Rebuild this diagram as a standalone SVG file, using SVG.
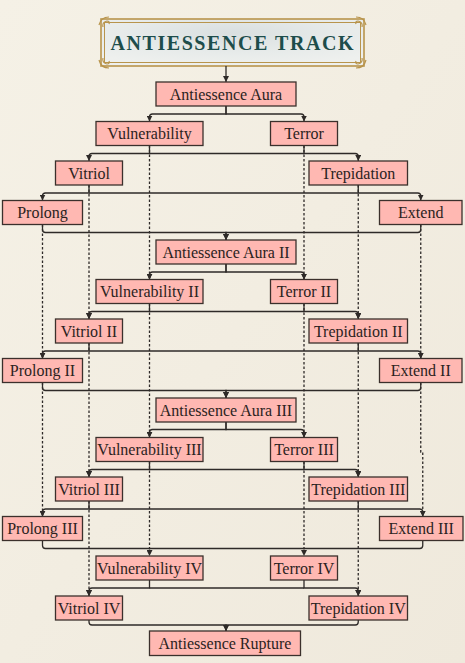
<svg xmlns="http://www.w3.org/2000/svg" width="465" height="663" viewBox="0 0 465 663">
<defs>
  <linearGradient id="bg" x1="0" y1="0" x2="1" y2="1">
    <stop offset="0" stop-color="#f5f1e6"/>
    <stop offset="1" stop-color="#efe9dc"/>
  </linearGradient>
  <radialGradient id="cloud" cx="0.5" cy="0.3" r="0.7">
    <stop offset="0" stop-color="#d9dfe0"/>
    <stop offset="0.6" stop-color="#e7ebea"/>
    <stop offset="1" stop-color="#eef0ee"/>
  </radialGradient>
  <marker id="arr" viewBox="0 0 6 6" refX="6" refY="3" markerWidth="6" markerHeight="6" markerUnits="userSpaceOnUse" orient="auto">
    <path d="M0,0 L6,3 L0,6 z" fill="#2e2a28"/>
  </marker>
  <style>
    .box{fill:#ffb8b2;stroke:#3b302c;stroke-width:1.3}
    .lbl{font-family:"Liberation Serif","Times New Roman",serif;font-size:16px;fill:#2b2321;text-anchor:middle}
    .e{fill:none;stroke:#2e2a28;stroke-width:1.3}
    .d{fill:none;stroke:#2e2a28;stroke-width:1.3;stroke-dasharray:2.5 2}
    .gold{fill:none;stroke:#b8944c}
  </style>
</defs>
<rect x="0" y="0" width="465" height="663" fill="url(#bg)"/>

<g id="title">
  <rect x="101" y="19" width="263" height="47" fill="url(#cloud)"/>
  <rect x="101" y="19" width="263" height="47" class="gold" stroke-width="1.6"/>
  <rect x="104.5" y="22.5" width="256" height="40" class="gold" stroke-width="1"/>
  <path class="gold" stroke-width="1.2" d="M99,25 q2,-8 10,-8 M103,27 q-1,-5 4,-6 q3,0 2,3 M99,60 q2,8 10,8 M103,58 q-1,5 4,6 q3,0 2,-3 M366,25 q-2,-8 -10,-8 M362,27 q1,-5 -4,-6 q-3,0 -2,3 M366,60 q-2,8 -10,8 M362,58 q1,5 -4,6 q-3,0 -2,-3"/>
  <text x="110.5" y="50" textLength="243" lengthAdjust="spacing" font-family="'Liberation Serif',serif" font-weight="bold" font-size="20" fill="#1d4d4b">ANTIESSENCE TRACK</text>
</g>

<g id="connectors">
  <path class="e" d="M226,66 V82" marker-end="url(#arr)"/>

  <path class="e" d="M226,106 V114 H152.5 Q149.5,114 149.5,117 V121.5" marker-end="url(#arr)"/>
  <path class="e" d="M226,106 V114 H301 Q304,114 304,117 V121.5" marker-end="url(#arr)"/>
  <path class="e" d="M149.5,145.5 V153.5 H92 Q89,153.5 89,156.5 V161" marker-end="url(#arr)"/>
  <path class="e" d="M304,145.5 V153.5 H355.25 Q358.25,153.5 358.25,156.5 V161" marker-end="url(#arr)"/>
  <path class="e" d="M149.5,153.5 H304"/>
  <path class="e" d="M89,185 V193 H45.5 Q42.5,193 42.5,196 V200.5" marker-end="url(#arr)"/>
  <path class="e" d="M358.25,185 V193 H417.75 Q420.75,193 420.75,196 V200.5" marker-end="url(#arr)"/>
  <path class="e" d="M89,193 H358.25"/>
  <path class="e" d="M42.5,224.5 V229.5 Q42.5,232.5 45.5,232.5 H226 V240" marker-end="url(#arr)"/>
  <path class="e" d="M420.75,224.5 V229.5 Q420.75,232.5 417.75,232.5 H226 V240" marker-end="url(#arr)"/>

  <path class="e" d="M226,264 V272 H152.5 Q149.5,272 149.5,275 V279.5" marker-end="url(#arr)"/>
  <path class="e" d="M226,264 V272 H301 Q304,272 304,275 V279.5" marker-end="url(#arr)"/>
  <path class="e" d="M149.5,303.5 V311.5 H92 Q89,311.5 89,314.5 V319" marker-end="url(#arr)"/>
  <path class="e" d="M304,303.5 V311.5 H355.25 Q358.25,311.5 358.25,314.5 V319" marker-end="url(#arr)"/>
  <path class="e" d="M149.5,311.5 H304"/>
  <path class="e" d="M89,343 V351 H45.5 Q42.5,351 42.5,354 V358.5" marker-end="url(#arr)"/>
  <path class="e" d="M358.25,343 V351 H417.75 Q420.75,351 420.75,354 V358.5" marker-end="url(#arr)"/>
  <path class="e" d="M89,351 H358.25"/>
  <path class="e" d="M42.5,382.5 V387.5 Q42.5,390.5 45.5,390.5 H226 V398" marker-end="url(#arr)"/>
  <path class="e" d="M420.75,382.5 V387.5 Q420.75,390.5 417.75,390.5 H226 V398" marker-end="url(#arr)"/>

  <path class="e" d="M226,422 V429.5 H152.5 Q149.5,429.5 149.5,432.5 V437.5" marker-end="url(#arr)"/>
  <path class="e" d="M226,422 V429.5 H301 Q304,429.5 304,432.5 V437.5" marker-end="url(#arr)"/>
  <path class="e" d="M149.5,461.5 V469.5 H92 Q89,469.5 89,472.5 V477" marker-end="url(#arr)"/>
  <path class="e" d="M304,461.5 V469.5 H355.25 Q358.25,469.5 358.25,472.5 V477" marker-end="url(#arr)"/>
  <path class="e" d="M149.5,469.5 H304"/>
  <path class="e" d="M89,501 V509 H45.5 Q42.5,509 42.5,512 V516.5" marker-end="url(#arr)"/>
  <path class="e" d="M358.25,501 V509 H419.75 Q422.75,509 422.75,512 V516.5" marker-end="url(#arr)"/>
  <path class="e" d="M89,509 H358.25"/>
  <path class="e" d="M42.5,540.5 V545.5 Q42.5,548.5 45.5,548.5 H419.75 Q422.75,548.5 422.75,545.5 V540.5"/>

  <path class="e" d="M149.5,580 V588 H92 Q89,588 89,591 V596" marker-end="url(#arr)"/>
  <path class="e" d="M304,580 V588 H355.25 Q358.25,588 358.25,591 V596" marker-end="url(#arr)"/>
  <path class="e" d="M149.5,588 H304"/>
  <path class="e" d="M89,620 V622 Q89,625 92,625 H226 V631" marker-end="url(#arr)"/>
  <path class="e" d="M358.25,620 V622 Q358.25,625 355.25,625 H226 V631" marker-end="url(#arr)"/>

  <path class="d" d="M149.5,145.5 V279.5" marker-end="url(#arr)"/>
  <path class="d" d="M149.5,303.5 V437.5" marker-end="url(#arr)"/>
  <path class="d" d="M149.5,461.5 V556" marker-end="url(#arr)"/>
  <path class="d" d="M304,145.5 V279.5" marker-end="url(#arr)"/>
  <path class="d" d="M304,303.5 V437.5" marker-end="url(#arr)"/>
  <path class="d" d="M304,461.5 V556" marker-end="url(#arr)"/>
  <path class="d" d="M89,185 V319" marker-end="url(#arr)"/>
  <path class="d" d="M89,343 V477" marker-end="url(#arr)"/>
  <path class="d" d="M89,501 V596" marker-end="url(#arr)"/>
  <path class="d" d="M358.25,185 V319" marker-end="url(#arr)"/>
  <path class="d" d="M358.25,343 V477" marker-end="url(#arr)"/>
  <path class="d" d="M358.25,501 V596" marker-end="url(#arr)"/>
  <path class="d" d="M42.5,224.5 V358.5" marker-end="url(#arr)"/>
  <path class="d" d="M42.5,382.5 V516.5" marker-end="url(#arr)"/>
  <path class="d" d="M420.75,224.5 V358.5" marker-end="url(#arr)"/>
  <path class="d" d="M420.75,382.5 V452 H422.75 V516.5" marker-end="url(#arr)"/>
</g>

<g id="aura1"><rect class="box" x="156" y="82" width="140" height="24"/><text class="lbl" x="226" y="99.5">Antiessence Aura</text></g>
<g id="vuln1"><rect class="box" x="96" y="121.5" width="107" height="24"/><text class="lbl" x="149.5" y="139">Vulnerability</text></g>
<g id="terror1"><rect class="box" x="270.5" y="121.5" width="67" height="24"/><text class="lbl" x="304" y="139">Terror</text></g>
<g id="vitriol1"><rect class="box" x="55.5" y="161" width="67" height="24"/><text class="lbl" x="89" y="178.5">Vitriol</text></g>
<g id="trep1"><rect class="box" x="309" y="161" width="98.5" height="24"/><text class="lbl" x="358.25" y="178.5">Trepidation</text></g>
<g id="prolong1"><rect class="box" x="2.5" y="200.5" width="80" height="24"/><text class="lbl" x="42.5" y="218">Prolong</text></g>
<g id="extend1"><rect class="box" x="379.5" y="200.5" width="82.5" height="24"/><text class="lbl" x="420.75" y="218">Extend</text></g>

<g id="aura2"><rect class="box" x="156" y="240" width="140" height="24"/><text class="lbl" x="226" y="257.5">Antiessence Aura II</text></g>
<g id="vuln2"><rect class="box" x="96" y="279.5" width="107" height="24"/><text class="lbl" x="149.5" y="297">Vulnerability II</text></g>
<g id="terror2"><rect class="box" x="270.5" y="279.5" width="67" height="24"/><text class="lbl" x="304" y="297">Terror II</text></g>
<g id="vitriol2"><rect class="box" x="55.5" y="319" width="67" height="24"/><text class="lbl" x="89" y="336.5">Vitriol II</text></g>
<g id="trep2"><rect class="box" x="309" y="319" width="98.5" height="24"/><text class="lbl" x="358.25" y="336.5">Trepidation II</text></g>
<g id="prolong2"><rect class="box" x="2.5" y="358.5" width="80" height="24"/><text class="lbl" x="42.5" y="376">Prolong II</text></g>
<g id="extend2"><rect class="box" x="379.5" y="358.5" width="82.5" height="24"/><text class="lbl" x="420.75" y="376">Extend II</text></g>

<g id="aura3"><rect class="box" x="156" y="398" width="140" height="24"/><text class="lbl" x="226" y="415.5">Antiessence Aura III</text></g>
<g id="vuln3"><rect class="box" x="96" y="437.5" width="107" height="24"/><text class="lbl" x="149.5" y="455">Vulnerability III</text></g>
<g id="terror3"><rect class="box" x="270.5" y="437.5" width="67" height="24"/><text class="lbl" x="304" y="455">Terror III</text></g>
<g id="vitriol3"><rect class="box" x="55.5" y="477" width="67" height="24"/><text class="lbl" x="89" y="494.5">Vitriol III</text></g>
<g id="trep3"><rect class="box" x="309" y="477" width="98.5" height="24"/><text class="lbl" x="358.25" y="494.5">Trepidation III</text></g>
<g id="prolong3"><rect class="box" x="2.5" y="516.5" width="80" height="24"/><text class="lbl" x="42.5" y="534">Prolong III</text></g>
<g id="extend3"><rect class="box" x="379.5" y="516.5" width="83.5" height="24"/><text class="lbl" x="421.25" y="534">Extend III</text></g>

<g id="vuln4"><rect class="box" x="96" y="556" width="107" height="24"/><text class="lbl" x="149.5" y="573.5">Vulnerability IV</text></g>
<g id="terror4"><rect class="box" x="270.5" y="556" width="67" height="24"/><text class="lbl" x="304" y="573.5">Terror IV</text></g>
<g id="vitriol4"><rect class="box" x="55.5" y="596" width="67" height="24"/><text class="lbl" x="89" y="613.5">Vitriol IV</text></g>
<g id="trep4"><rect class="box" x="309" y="596" width="98.5" height="24"/><text class="lbl" x="358.25" y="613.5">Trepidation IV</text></g>
<g id="rupture"><rect class="box" x="149.5" y="631" width="151" height="24.5"/><text class="lbl" x="225" y="648.5">Antiessence Rupture</text></g>
</svg>
